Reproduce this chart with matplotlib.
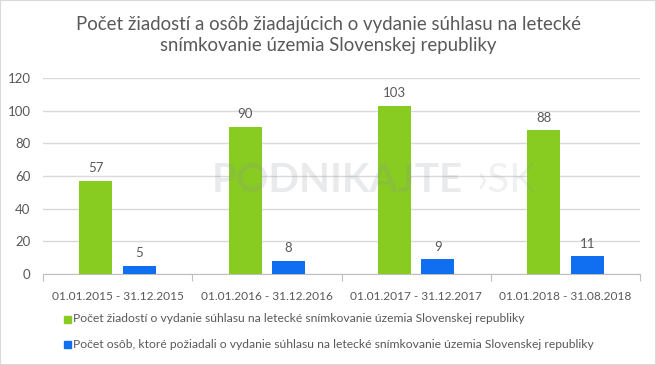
import matplotlib
matplotlib.use("Agg")
import matplotlib.pyplot as plt
from matplotlib.patches import Rectangle
import numpy as np

# ---------------------------------------------------------------------------
# Data
# ---------------------------------------------------------------------------
periods = [
    "01.01.2015 - 31.12.2015",
    "01.01.2016 - 31.12.2016",
    "01.01.2017 - 31.12.2017",
    "01.01.2018 - 31.08.2018",
]
requests = [57, 90, 103, 88]
persons = [5, 8, 9, 11]

series_labels = [
    "Počet žiadostí o vydanie súhlasu na letecké snímkovanie územia Slovenskej republiky",
    "Počet osôb, ktoré požiadali o vydanie súhlasu na letecké snímkovanie územia Slovenskej republiky",
]
title = ("Počet žiadostí a osôb žiadajúcich o vydanie súhlasu na letecké\n"
         "snímkovanie územia Slovenskej republiky")

GREEN = "#88CC22"
BLUE = "#0F6FF0"
TEXT = "#595959"
W, H = 656, 365

plt.rcParams["font.family"] = ["Lato", "DejaVu Sans"]

fig = plt.figure(figsize=(W / 100, H / 100), dpi=100)
fig.patches.append(Rectangle((0, 0), 1, 1, transform=fig.transFigure,
                             fill=False, edgecolor="#d9d9d9", lw=1.5))

ax = fig.add_axes([43 / W, (H - 274) / H, 597 / W, (274 - 78) / H])

x = np.arange(len(periods))
bw = 0.22
b1 = ax.bar(x - 0.146, requests, bw, color=GREEN, zorder=3)
b2 = ax.bar(x + 0.146, persons, bw, color=BLUE, zorder=3)

for bars in (b1, b2):
    for r in bars:
        ax.text(r.get_x() + r.get_width() / 2, r.get_height() + 4,
                f"{int(r.get_height())}", ha="center", va="bottom",
                fontsize=9.5, color=TEXT)

ax.set_xlim(-0.5, len(periods) - 0.5)
ax.set_ylim(0, 120)
ax.set_yticks(range(0, 121, 20))
ax.yaxis.grid(True, color="#d9d9d9", lw=1, zorder=0)
ax.tick_params(axis="y", length=0, labelsize=9.5, labelcolor=TEXT, pad=9)

ax.set_xticks(np.arange(-0.5, len(periods)), minor=False)
ax.set_xticklabels([])
ax.set_xticks(x, minor=True)
ax.set_xticklabels(periods, minor=True)
ax.tick_params(axis="x", which="major", length=5, color="#bfbfbf")
ax.tick_params(axis="x", which="minor", length=0, labelsize=8.6,
               labelcolor=TEXT, pad=12)

for s in ("top", "right", "left"):
    ax.spines[s].set_visible(False)
ax.spines["bottom"].set_color("#bfbfbf")

# faint watermark, over the bars like in the source image
ax.text(337 / W, 1 - 180 / H, "PODNIKAJTE", transform=fig.transFigure,
        fontsize=29, fontweight="bold", color="#8a9098", alpha=0.18,
        ha="center", va="center", zorder=5)
ax.text(506 / W, 1 - 180 / H, "›SK", transform=fig.transFigure,
        fontsize=29, color="#8a9098", alpha=0.13,
        ha="center", va="center", zorder=5)

fig.text(0.5, 1 - 35 / H, title, ha="center", va="center", fontsize=13.4,
         color=TEXT, linespacing=1.3)

# legend drawn as two rows
for i, (lab, col) in enumerate(zip(series_labels, [GREEN, BLUE])):
    y = 1 - (319 + 25 * i) / H
    fig.patches.append(Rectangle((64 / W, y - 3.5 / H), 7 / W, 7 / H,
                                 transform=fig.transFigure, color=col))
    fig.text(73 / W, y, lab, fontsize=8.7, color=TEXT, va="center", ha="left")

fig.savefig("out.png", dpi=100)
